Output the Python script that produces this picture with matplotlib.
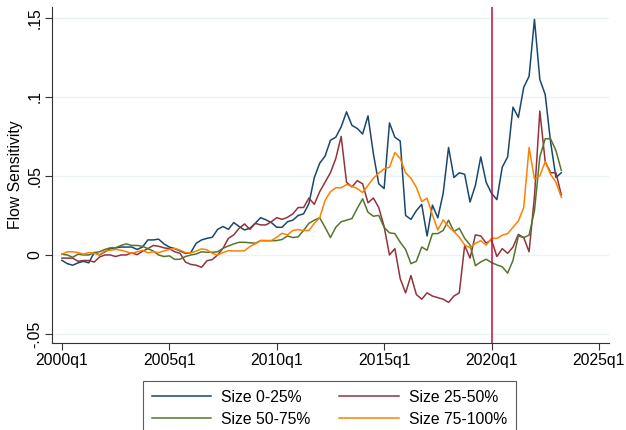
import numpy as np
import matplotlib
matplotlib.use("Agg")
import matplotlib.pyplot as plt

# quarterly series, 2000q1 .. 2023q2
size_0_25 = [
    -0.0034, -0.0055, -0.0065, -0.005, -0.004, -0.005, 0.0015, 0.0, 0.002, 0.004,
    0.0045, 0.005, 0.005, 0.005, 0.0035, 0.005, 0.0095, 0.0095, 0.010, 0.007,
    0.005, 0.004, 0.0025, 0.001, 0.0015, 0.0074, 0.0095, 0.0105, 0.0112, 0.0162,
    0.018, 0.0162, 0.0205, 0.018, 0.0158, 0.0169, 0.020, 0.0236, 0.0222, 0.0205,
    0.0175, 0.0175, 0.021, 0.022, 0.025, 0.026, 0.0325, 0.049, 0.058, 0.0625,
    0.0725, 0.0745, 0.081, 0.0905, 0.082, 0.080, 0.0765, 0.088, 0.064, 0.045,
    0.042, 0.0835, 0.0745, 0.072, 0.025, 0.0225, 0.028, 0.032, 0.012, 0.0315,
    0.0235, 0.039, 0.068, 0.049, 0.052, 0.051, 0.0335, 0.044, 0.062, 0.046,
    0.039, 0.035, 0.0555, 0.062, 0.0935, 0.087, 0.106, 0.113, 0.149, 0.111,
    0.1015, 0.0715, 0.049, 0.052,
]
size_25_50 = [
    -0.002, -0.002, -0.002, -0.004, -0.0035, -0.0035, -0.0045, -0.0013, 0.0, 0.0,
    -0.001, 0.0, 0.0, 0.0013, 0.0002, 0.0023, 0.004, 0.006, 0.0055, 0.0045,
    0.004, 0.002, 0.001, -0.0045, -0.006, -0.0065, -0.0078, -0.0037, -0.0029, 0.0,
    0.0042, 0.0105, 0.0127, 0.0169, 0.0196, 0.0162, 0.020, 0.019, 0.019, 0.021,
    0.0236, 0.0225, 0.0238, 0.026, 0.030, 0.030, 0.036, 0.032, 0.040, 0.046,
    0.052, 0.061, 0.075, 0.046, 0.043, 0.047, 0.045, 0.033, 0.036, 0.030,
    0.018, 0.000, 0.004, -0.015, -0.024, -0.013, -0.025, -0.028, -0.024, -0.026,
    -0.027, -0.028, -0.030, -0.026, -0.024, 0.006, -0.002, 0.0127, 0.012, 0.0075,
    0.0095, -0.001, 0.004, 0.001, 0.005, 0.013, 0.011, 0.002, 0.037, 0.091,
    0.059, 0.052, 0.052, 0.038,
]
size_50_75 = [
    0.0005, 0.0, -0.0015, 0.0005, 0.0, 0.0, 0.0015, 0.002, 0.0035, 0.0045,
    0.0045, 0.006, 0.007, 0.006, 0.006, 0.0055, 0.004, 0.0025, 0.0, -0.001,
    -0.0006, -0.0028, -0.0027, -0.001, 0.0, 0.0006, 0.002, 0.0017, 0.0017, 0.002,
    0.0042, 0.0057, 0.007, 0.008, 0.008, 0.0077, 0.0074, 0.0091, 0.009, 0.009,
    0.0091, 0.0098, 0.012, 0.011, 0.0115, 0.0155, 0.020, 0.022, 0.0235, 0.0175,
    0.011, 0.0175, 0.021, 0.022, 0.023, 0.0295, 0.0355, 0.027, 0.0245, 0.025,
    0.0175, 0.014, 0.0135, 0.008, 0.0035, -0.0055, -0.004, 0.005, 0.003, 0.0135,
    0.0135, 0.0155, 0.022, 0.0148, 0.0169, 0.0105, 0.0063, -0.0068, -0.0044, -0.0027,
    -0.0048, -0.0063, -0.0075, -0.0115, -0.0035, 0.012, 0.011, 0.0125, 0.028, 0.062,
    0.0735, 0.0735, 0.066, 0.0535,
]
size_75_100 = [
    0.0005, 0.002, 0.002, 0.0015, 0.0005, 0.0015, 0.001, 0.0002, 0.0025, 0.003,
    0.0035, 0.003, 0.002, 0.001, 0.002, 0.003, 0.0013, 0.002, 0.0015, 0.0025,
    0.0035, 0.0042, 0.003, 0.0015, 0.0013, 0.0025, 0.0038, 0.0033, 0.001, 0.0,
    0.0015, 0.0027, 0.0025, 0.0025, 0.0027, 0.0053, 0.007, 0.0091, 0.0091, 0.0091,
    0.0112, 0.0137, 0.0127, 0.0155, 0.016, 0.0155, 0.0155, 0.020, 0.0235, 0.0345,
    0.040, 0.0425, 0.0425, 0.0445, 0.0435, 0.042, 0.0395, 0.044, 0.0485, 0.0517,
    0.0545, 0.0555, 0.0648, 0.061, 0.052, 0.0485, 0.0428, 0.0338, 0.0359, 0.0253,
    0.0158, 0.0222, 0.0179, 0.0148, 0.0112, 0.0063, 0.0046, 0.0074, 0.009, 0.0063,
    0.0105, 0.0105, 0.0125, 0.0135, 0.0175, 0.0215, 0.030, 0.068, 0.048, 0.050,
    0.059, 0.051, 0.046, 0.0365,
]
labels = ["Size 0-25%", "Size 25-50%", "Size 50-75%", "Size 75-100%"]
colors = ["#1a476f", "#90353b", "#55752f", "#ff8000"]

xticks = [0, 20, 40, 60, 80, 100]
xticklabels = ["2000q1", "2005q1", "2010q1", "2015q1", "2020q1", "2025q1"]
yticks = [-0.05, 0, 0.05, 0.1, 0.15]
yticklabels = ["-.05", "0", ".05", ".1", ".15"]
event_q = 80  # 2020q1

q = np.arange(len(size_0_25))
fs = 11.3
font = "Liberation Sans"

fig = plt.figure(figsize=(6.26, 4.30), dpi=100)
ax = fig.add_axes([0.083, 0.2023, 0.890, 0.782])

lines = []
for ys, lab, c in zip([size_0_25, size_25_50, size_50_75, size_75_100], labels, colors):
    ln, = ax.plot(q, ys, color=c, lw=1.1, label=lab)
    lines.append(ln)

ax.axvline(event_q, color="#c0103a", lw=1.1)

ax.set_xlim(-1.86, 101.9)
ax.set_ylim(-0.0557, 0.157)
ax.set_xticks(xticks)
ax.set_xticklabels(xticklabels, fontsize=fs, fontfamily=font)
ax.set_yticks(yticks)
ax.set_yticklabels(yticklabels, fontsize=fs, rotation=90, va="center", fontfamily=font)
ax.set_ylabel("Flow Sensitivity", fontsize=fs, fontfamily=font, labelpad=3)
ax.yaxis.grid(True, color="#eaf2f3", lw=1.0)
ax.set_axisbelow(True)
ax.tick_params(direction="out", length=5, width=0.8, color="#333333", pad=2)
for s in ["top", "right"]:
    ax.spines[s].set_visible(False)
ax.spines["left"].set_color("#333333")
ax.spines["bottom"].set_color("#333333")

# stata fills the legend row by row
order = [0, 2, 1, 3]
leg = fig.legend([lines[i] for i in order], [labels[i] for i in order],
                 loc="upper left", bbox_to_anchor=(143 / 626, 1 - 381 / 430), ncol=2,
                 frameon=True, fancybox=False, edgecolor="#333333",
                 prop={"family": font, "size": fs},
                 handlelength=3.8, columnspacing=1.8, labelspacing=0.45,
                 borderpad=0.55, borderaxespad=0, handletextpad=0.65)
leg.get_frame().set_linewidth(0.8)

fig.savefig("out.png", dpi=100)
